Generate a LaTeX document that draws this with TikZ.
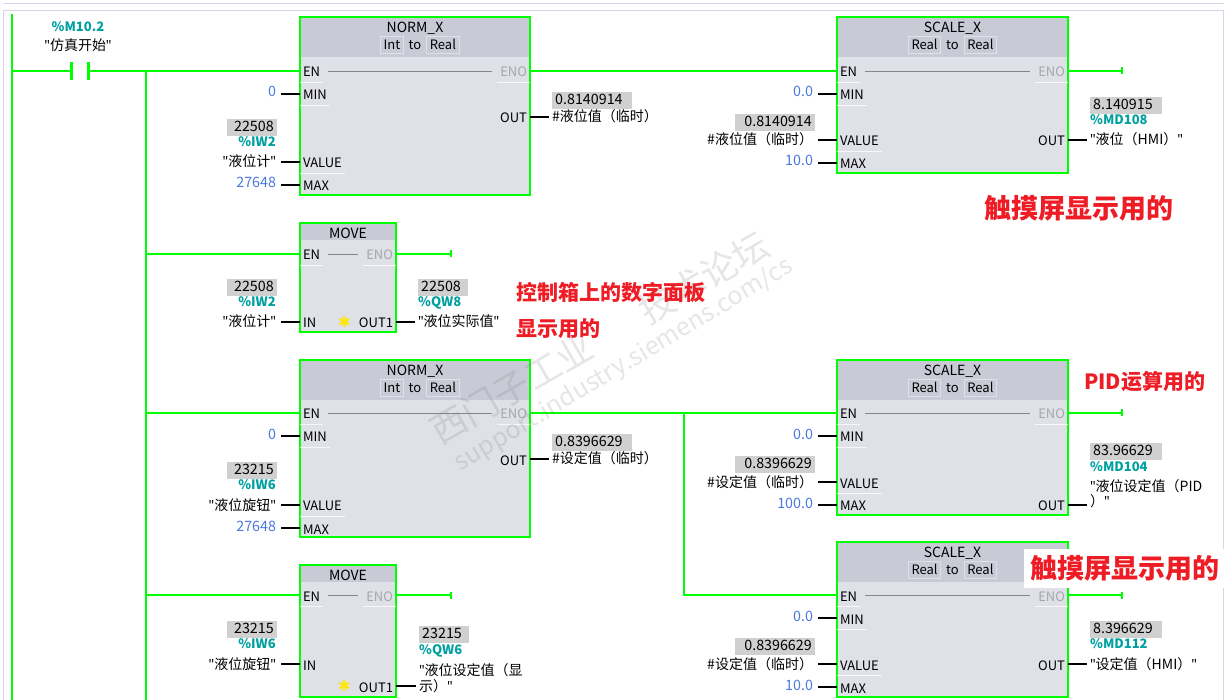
\documentclass[tikz,border=0pt]{standalone}
\usepackage{fontspec}
\setmainfont{Noto Sans CJK SC}
\newfontfamily\symfont{DejaVu Sans}
\newfontfamily\latinfont{Noto Sans}
\newcommand{\qt}{{\latinfont"}}
\usepackage{tikz}
\usetikzlibrary{positioning, arrows.meta}

\begin{document}
\begin{tikzpicture}[x=1pt, y=-1pt, font=\fontsize{13}{16}\selectfont,
        fbdbox/.style={draw=plcgreen, fill=plcbody, line width=2.4pt, outer sep=0pt, anchor=north west},
        fbdhead/.style={fill=plchead, inner sep=0pt, outer sep=0pt, anchor=north},
        typebox/.style={draw=plcbody, line width=0.7pt, inner xsep=3pt, inner ysep=0pt, minimum height=17pt, text height=10pt, text depth=2pt},
        pinlabel/.style={inner xsep=3pt, inner ysep=0pt, outer sep=0pt, text height=12pt, text depth=0pt},
        enolabel/.style={pinlabel, text=plcgrey},
        constlabel/.style={inner xsep=5pt, inner ysep=0pt, outer sep=0pt, anchor=east, text=plcblue, text height=9pt, text depth=3pt, font=\fontsize{14.3}{16}\selectfont},
        namelabel/.style={inner xsep=5pt, inner ysep=0pt, outer sep=0pt, text height=10pt, text depth=0pt, align=left, font=\fontsize{14}{16}\selectfont},
        addrlabel/.style={inner sep=0pt, text=plcteal, font=\fontsize{13}{16}\selectfont\bfseries, text height=9pt, text depth=2pt},
        vallabel/.style={fill=plcval, inner xsep=3pt, inner ysep=0pt, minimum height=17pt, text height=10pt, text depth=2pt, font=\fontsize{14.3}{16}\selectfont},
        notelabel/.style={text=plcred, inner sep=0pt, font=\fontsize{#1}{#1}\selectfont\bfseries},
        stub/.style={line width=2pt},
        rung/.style={draw=plcgreen, line width=2.2pt},
        pinline/.style={draw=white, line width=0.8pt, opacity=0.8}]
        % Define colors
        \definecolor{plcgreen}{rgb}{0.0, 1.0, 0.0}
        \definecolor{plcbody}{HTML}{DFE0E8}
        \definecolor{plchead}{HTML}{C8CAD6}
        \definecolor{plcgrey}{HTML}{A6A6AC}
        \definecolor{plcblue}{HTML}{4A78E0}
        \definecolor{plcteal}{HTML}{00A0A0}
        \definecolor{plcval}{HTML}{D0D0D0}
        \definecolor{plcred}{HTML}{EE1C25}
        \definecolor{plcframe}{HTML}{D4D4EA}

        \useasboundingbox (0,0) rectangle (1224,700);

        % Frame
        \draw[plcframe, line width=1pt] (3.5,3.5) -- (1224,3.5);
        \draw[plcframe, line width=1pt] (3.5,700) -- (3.5,10.5) -- (1223,10.5) -- (1223,700);

        % Blocks
        \foreach \blk/\xpos/\ypos/\wid/\hgt/\ttl/\hdr in {norm1/300/17/230/178/NORM\_X/40, scale1/837/17/231/156/SCALE\_X/40, move1/300/223/96/109/MOVE/17, norm2/300/360/230/177/NORM\_X/40, scale2/837/360/231/155/SCALE\_X/40, scale3/837/542/231/155/SCALE\_X/40, move2/300/565/96/132/MOVE/17} {
            \node[fbdbox, minimum width=\wid pt, minimum height=\hgt pt] (\blk) at (\xpos,\ypos) {};
            \node[fbdhead, minimum width=\wid pt-2.4pt, minimum height=\hdr pt-1pt, below=1.2pt of \blk.north, anchor=north] (\blk-head) {};
            \node[inner sep=0pt, text height=10pt, text depth=3pt, below=5pt of \blk.north, anchor=north, font=\fontsize{14}{16}\selectfont] (\blk-title) {\ttl};
        }

        % Type selectors
        \foreach \blk/\typea/\typeb in {norm1/Int/Real, scale1/Real/Real, norm2/Int/Real, scale2/Real/Real, scale3/Real/Real} {
            \node[inner sep=0pt, text height=10pt, text depth=2pt, below=3.5pt of \blk-title] (\blk-to) {to};
            \node[typebox, left=5pt of \blk-to] (\blk-typea) {\typea};
            \node[typebox, right=5pt of \blk-to] (\blk-typeb) {\typeb};
        }

        % Pins
        \foreach \blk/\ypos in {norm1/71, scale1/71, move1/254, norm2/413, scale2/413, scale3/595, move2/595} {
            \node[pinlabel, anchor=west] (\blk-en) at (\blk.west |- 0,\ypos) {EN};
            \node[enolabel, anchor=east] (\blk-eno) at (\blk.east |- 0,\ypos) {ENO};
            \draw[plcgrey!80!black, line width=0.8pt] ([xshift=5pt]\blk-en.east) -- ([xshift=-5pt]\blk-eno.west);
            \draw[pinline] ([yshift=-5pt]\blk-en.south west) -- ([yshift=-5pt]\blk-en.south east);
            \draw[pinline] ([yshift=-5pt]\blk-eno.south west) -- ([yshift=-5pt]\blk-eno.south east);
        }
        \foreach \blk/\pmin/\pval/\pmax in {norm1/94/162/185, scale1/94/140/163, norm2/436/505/528, scale2/436/482/505, scale3/618/664/687} {
            \node[pinlabel, anchor=west] (\blk-min) at (\blk.west |- 0,\pmin) {MIN};
            \node[pinlabel, anchor=west] (\blk-value) at (\blk.west |- 0,\pval) {VALUE};
            \node[pinlabel, anchor=west] (\blk-max) at (\blk.west |- 0,\pmax) {MAX};
            \draw[pinline] ([yshift=-5pt]\blk-min.south west) -- ([yshift=-5pt]\blk-min.south east);
            \draw[pinline] ([yshift=-5pt]\blk-value.south west) -- ([yshift=-5pt]\blk-value.south east);
        }
        \foreach \blk/\ypos in {norm1/117, scale1/140, norm2/459, scale2/505, scale3/664} {
            \node[pinlabel, anchor=east] (\blk-out) at (\blk.east |- 0,\ypos) {OUT};
        }
        \node[pinlabel, anchor=west] (move1-in) at (move1.west |- 0,322) {IN};
        \node[pinlabel, anchor=east] (move1-out) at (move1.east |- 0,322) {OUT1};
        \node[pinlabel, anchor=west] (move2-in) at (move2.west |- 0,664) {IN};
        \node[pinlabel, anchor=east] (move2-out) at (move2.east |- 0,686) {OUT1};
        \foreach \blk in {move1, move2} {
            \node[inner sep=0pt, text=yellow!90!orange, font=\symfont\fontsize{15}{15}\selectfont, left=5pt of \blk-out] (\blk-star) {✱};
        }

        % Constants on the inputs
        \foreach \blk/\cmin/\cmax in {norm1/0/27648, scale1/0.0/10.0, norm2/0/27648, scale2/0.0/100.0, scale3/0.0/10.0} {
            \node[constlabel, left=19pt of \blk-min.west, anchor=east] (\blk-minsrc) {\cmin};
            \node[constlabel, left=19pt of \blk-max.west, anchor=east] (\blk-maxsrc) {\cmax};
            \draw[stub] (\blk-minsrc.east) -- (\blk-min.west);
            \draw[stub] (\blk-maxsrc.east) -- (\blk-max.west);
        }

        % Tags on the inputs
        \foreach \blk/\pintag/\txt/\adr/\val in {norm1/value/液位计/\%IW2/22508, move1/in/液位计/\%IW2/22508, norm2/value/液位旋钮/\%IW6/23215, move2/in/液位旋钮/\%IW6/23215} {
            \node[namelabel, left=19pt of \blk-\pintag.west, anchor=east] (\blk-tag) {\qt{}\txt\qt};
            \node[addrlabel, above=8pt of \blk-tag.north east, anchor=south east, xshift=-5pt] (\blk-adr) {\adr};
            \node[vallabel, minimum width=50pt, text width=44pt, align=right, above=1.5pt of \blk-adr.north east, anchor=south east, xshift=1pt] (\blk-val) {\val};
            \draw[stub] (\blk-tag.east) -- (\blk-\pintag.west);
        }
        \foreach \blk/\txt/\val in {scale1/液位值/0.8140914, scale2/设定值/0.8396629, scale3/设定值/0.8396629} {
            \node[namelabel, left=19pt of \blk-value.west, anchor=east] (\blk-tag) {\#\txt（临时）};
            \node[vallabel, minimum width=80pt, text width=74pt, align=right, above=3.5pt of \blk-tag.north east, anchor=south east, xshift=-3pt] (\blk-val) {\val};
            \draw[stub] (\blk-tag.east) -- (\blk-value.west);
        }

        % Tags on the outputs
        \foreach \blk/\txt/\val in {norm1/液位值/0.8140914, norm2/设定值/0.8396629} {
            \node[namelabel, inner xsep=3pt, right=19pt of \blk-out.east, anchor=west] (\blk-tag) {\#\txt（临时）};
            \node[vallabel, minimum width=80pt, text width=74pt, align=left, above=3pt of \blk-tag.north west, anchor=south west, xshift=3pt] (\blk-val) {\val};
            \draw[stub] (\blk-out.east) -- (\blk-tag.west);
        }
        \foreach \blk/\txt/\adr/\val/\wid in {move1/液位实际值/\%QW8/22508/44, scale1/液位（HMI）/\%MD108/8.140915/66, scale3/设定值（HMI）/\%MD112/8.396629/66} {
            \node[namelabel, inner xsep=3pt, right=19pt of \blk-out.east, anchor=west] (\blk-tag) {\qt{}\txt\qt};
            \node[addrlabel, above=8pt of \blk-tag.north west, anchor=south west, xshift=3pt] (\blk-adr) {\adr};
            \node[vallabel, align=left, above=1.5pt of \blk-adr.north west, anchor=south west, text width=\wid pt] (\blk-val) {\val};
            \draw[stub] (\blk-out.east) -- (\blk-tag.west);
        }
        \coordinate (scale2-tail) at (1087,505);
        \node[namelabel, inner xsep=3pt, anchor=south west] (scale2-tag) at (1087,507) {\qt{}液位设定值（PID\\）\qt};
        \node[addrlabel, anchor=west] (scale2-adr) at (1090,468) {\%MD104};
        \node[vallabel, text width=66pt, align=left, above=2pt of scale2-adr.north west, anchor=south west] (scale2-val) {83.96629};
        \draw[stub] (scale2-out.east) -- (scale2-tail);
        \coordinate (move2-tail) at (416,686);
        \node[namelabel, inner xsep=3pt, anchor=south west] (move2-outtag) at (416,691) {\qt{}液位设定值（显\\示）\qt};
        \node[addrlabel, anchor=west] (move2-outadr) at (419,651) {\%QW6};
        \node[vallabel, text width=44pt, align=left, above=2pt of move2-outadr.north west, anchor=south west] (move2-outval) {23215};
        \draw[stub] (move2-out.east) -- (move2-tail);

        % Contact
        \node[fill=plcgreen, minimum width=3pt, minimum height=18pt, inner sep=0pt, outer sep=0pt] (contact1) at (71,71) {};
        \node[fill=plcgreen, minimum width=3pt, minimum height=18pt, inner sep=0pt, outer sep=0pt] (contact2) at (88,71) {};
        \node[namelabel, anchor=center] (contacttag) at (78,46) {\qt{}仿真开始\qt};
        \node[addrlabel, anchor=center] (contactadr) at (78,28) {\%M10.2};

        % Rungs
        \coordinate (railtop) at (12,14);
        \coordinate (railend) at (12,700);
        \coordinate (railjoint) at (12,71);
        \coordinate (branchtop) at (146,71);
        \coordinate (branchend) at (146,700);
        \coordinate (splittop) at (684,413);
        \coordinate (splitend) at (684,595);
        \draw[rung] (railtop) -- (railend);
        \draw[rung] (railjoint) -- (contact1);
        \draw[rung] (contact2) -- (norm1-en.west);
        \draw[rung] (branchtop) -- (branchend);
        \foreach \blk in {move1, norm2, move2} {
            \draw[rung] (branchtop |- \blk-en.west) -- (\blk-en.west);
        }
        \draw[rung] (norm1-eno.east) -- (scale1-en.west);
        \draw[rung] (norm2-eno.east) -- (scale2-en.west);
        \draw[rung] (splittop) -- (splitend) -- (scale3-en.west);
        \foreach \blk/\xpos in {scale1/1123, move1/452, scale2/1123, scale3/1123, move2/452} {
            \coordinate (\blk-end) at (\xpos,0 |- \blk-eno.east);
            \draw[rung, -{Bar[width=7pt,line width=1.6pt]}] (\blk-eno.east) -- (\blk-end);
        }

        % Watermark
        \node[inner sep=0pt, text=gray, opacity=0.2, rotate=30, font=\fontsize{36}{36}\selectfont] (mark1) at (600,338) {西门子工业\hspace{60pt}技术论坛};
        \node[inner sep=0pt, text=gray, opacity=0.2, rotate=31, font=\fontsize{25}{25}\selectfont] (mark2) at (624,365) {support.industry.siemens.com/cs};

        % Notes
        \node[notelabel=27, anchor=west] (note1) at (984,208) {触摸屏显示用的};
        \node[notelabel=21, anchor=west] (note2) at (516,293) {控制箱上的数字面板};
        \node[notelabel=21, anchor=west] (note3) at (516,329) {显示用的};
        \node[notelabel=21, anchor=west] (note4) at (1084,382) {PID运算用的};
        \node[notelabel=27, anchor=west, fill=white, inner xsep=6pt, inner ysep=6pt, minimum width=200pt, minimum height=39pt] (note5) at (1024,568.5) {触摸屏显示用的};
    \end{tikzpicture}
\end{document}
